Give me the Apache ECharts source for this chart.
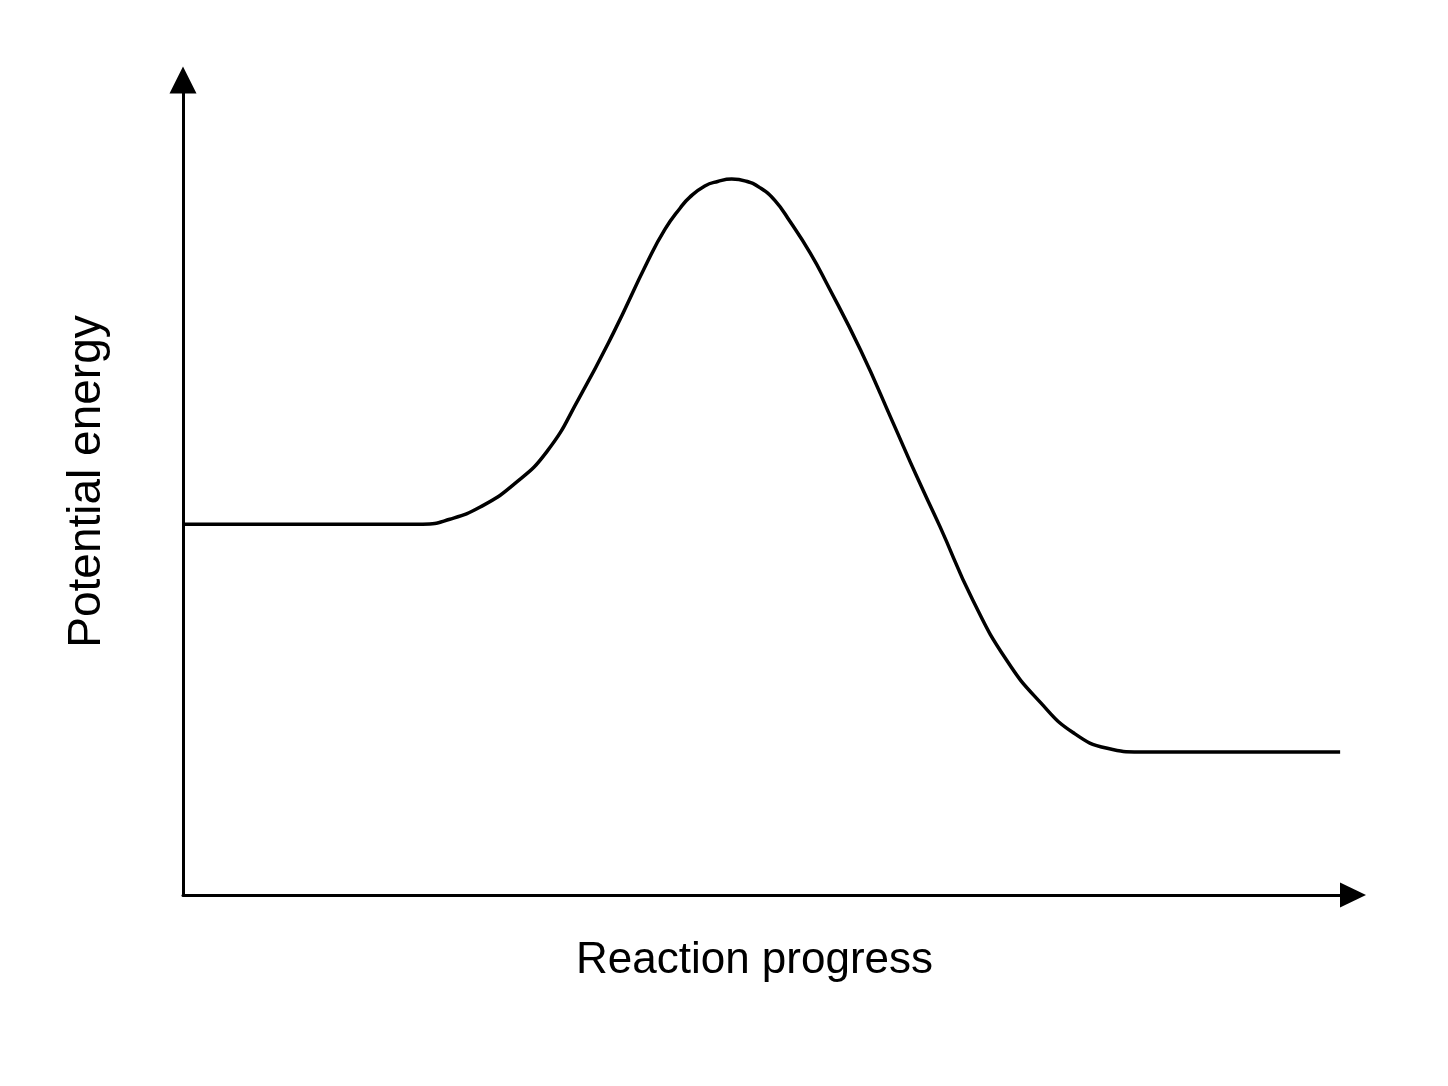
<!DOCTYPE html>
<html>
<head>
<meta charset="utf-8">
<script src="https://cdn.jsdelivr.net/npm/echarts@6/dist/echarts.min.js"></script>
<style>
html,body{margin:0;padding:0;background:#fff;}
#chart{width:1448px;height:1086px;}
</style>
</head>
<body>
<div id="chart"></div>
<script>
// Reaction progress (x) and potential energy (y), arbitrary units
const progress = [0, 20.5, 22.8, 25.4, 28.2, 31.1, 33.9, 36.8, 39.7, 41.2, 42.5, 43.3, 44.6, 45.7, 46.9, 48.1, 49.3, 50.6, 51.9, 53.6, 55.0, 57.9, 60.7, 62.7, 64.7, 67.5, 70.4, 73.3, 76.1, 79.0, 81.8, 85.2, 98.9];
const energy   = [45.5, 45.5, 46.1, 47.6, 50.3, 54.4, 61.1, 69.0, 77.7, 81.7, 84.3, 85.6, 87.0, 87.55, 87.85, 87.6, 86.8, 85.2, 82.6, 78.8, 75.1, 66.9, 57.9, 51.4, 45.2, 36.2, 28.8, 23.6, 19.9, 18.0, 17.55, 17.55, 17.55];
const xName = 'Reaction progress';
const yName = 'Potential energy';

const points = progress.map((x, i) => [x, energy[i]]);

const chart = echarts.init(document.getElementById('chart'));
const fontFamily = 'Liberation Sans, Arial, sans-serif';
chart.setOption({
  backgroundColor: '#fff',
  animation: false,
  grid: { left: 183, right: 95, top: 80, bottom: 191 },
  xAxis: {
    type: 'value', min: 0, max: 100,
    name: xName, nameLocation: 'middle', nameGap: 44,
    nameTextStyle: { fontFamily: fontFamily, fontSize: 44, color: '#000', padding: [0, 27, 0, 0] },
    axisLine: { show: true, symbol: ['none', 'triangle'], symbolSize: [25, 26], lineStyle: { color: '#000', width: 3 } },
    axisTick: { show: false }, axisLabel: { show: false }, splitLine: { show: false }
  },
  yAxis: {
    type: 'value', min: 0, max: 100,
    name: yName, nameLocation: 'middle', nameGap: 73, nameRotate: 90,
    nameTextStyle: { fontFamily: fontFamily, fontSize: 46, color: '#000', padding: [0, 0, 0, 12] },
    axisLine: { show: true, symbol: ['none', 'triangle'], symbolSize: [27, 27], lineStyle: { color: '#000', width: 3 } },
    axisTick: { show: false }, axisLabel: { show: false }, splitLine: { show: false }
  },
  series: [{
    type: 'line',
    data: points,
    smooth: 0.5,
    showSymbol: false,
    lineStyle: { color: '#000', width: 3.5 }
  }]
});
</script>
</body>
</html>
